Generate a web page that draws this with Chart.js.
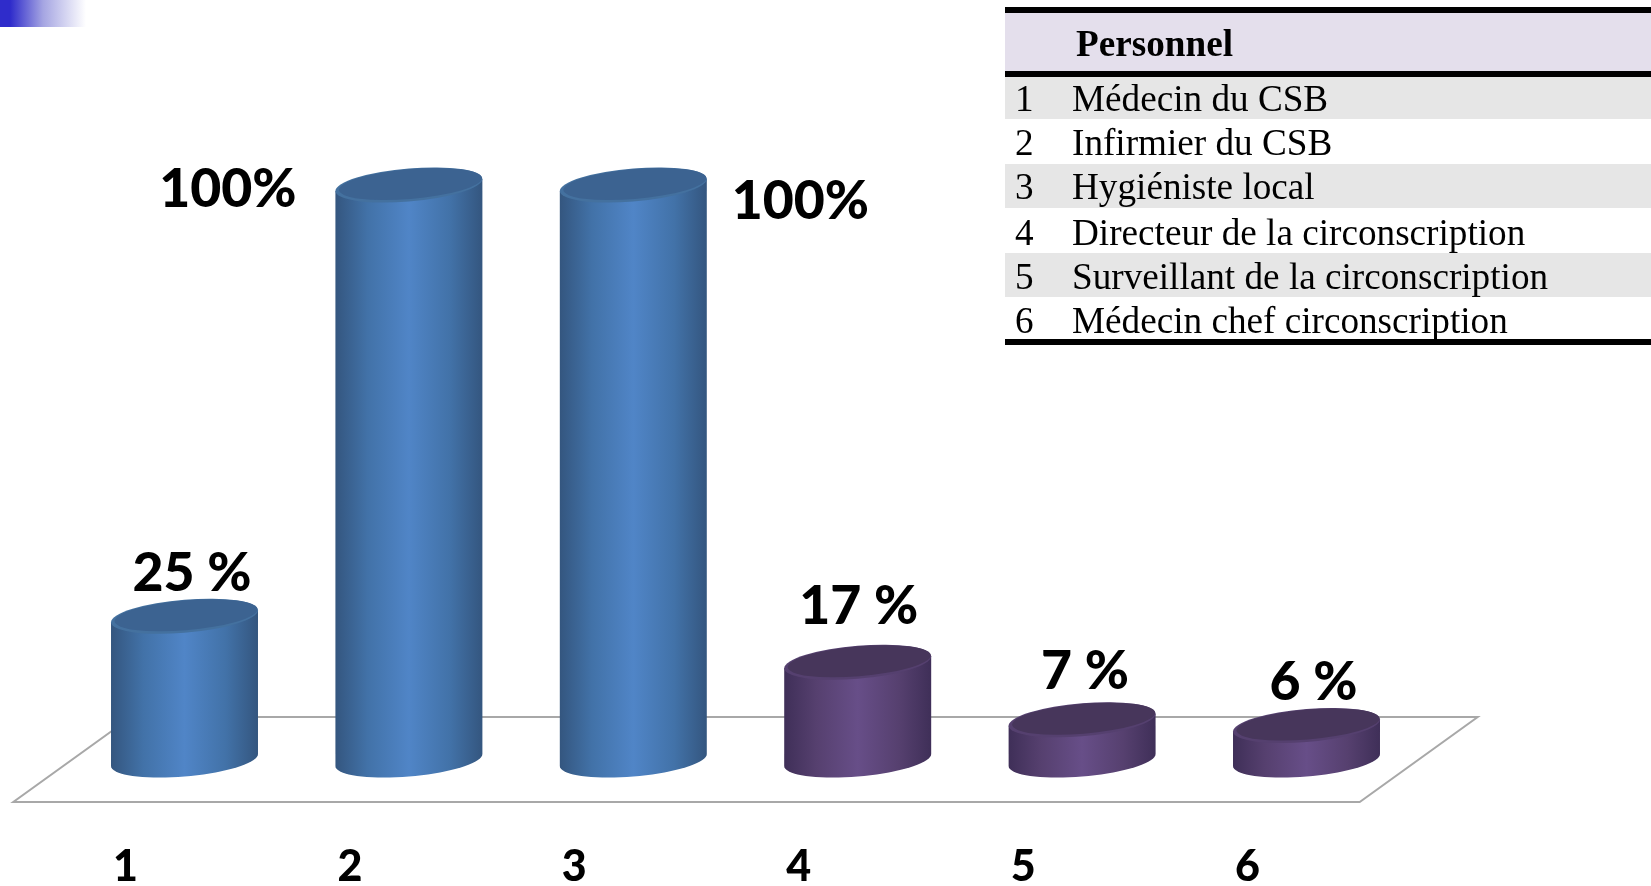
<!DOCTYPE html>
<html lang="fr">
<head>
<meta charset="utf-8">
<title>Personnel</title>
<script src="https://cdn.jsdelivr.net/npm/chart.js@4"></script>
<style>
    html, body { margin: 0; padding: 0; background: #fff; overflow: hidden; }
    #wrap { position: relative; width: 1651px; height: 886px; }
    #corner {
        position: absolute; left: 0; top: 0; width: 86px; height: 27px;
        background: linear-gradient(to right, #2f2ccb 0%, #2f2ccb 12%, #a5a5e2 50%, #ffffff 100%);
    }
    #legendTable {
        position: absolute; left: 1005px; top: 7px; width: 646px;
        border-collapse: collapse; table-layout: fixed;
        font-family: "Liberation Serif", serif; color: #000;
        border-top: 6px solid #000; border-bottom: 6px solid #000;
    }
    #legendTable col.numCol { width: 67px; }
    #legendTable th {
        height: 64.3px; padding: 2px 0 0 71px; box-sizing: border-box; text-align: left;
        font-size: 37.2px; font-weight: bold; background: #e4dfec;
        border-bottom: 6px solid #000;
    }
    #legendTable td {
        height: 44.5px; padding: 0; box-sizing: border-box;
        font-size: 37.2px; line-height: 36px; white-space: nowrap;
    }
    #legendTable tbody tr:first-child td { height: 45px; padding-top: 1px; }
    #legendTable tbody tr:nth-child(n+2) td { padding-top: 2px; }
    #legendTable tbody tr:nth-child(n+4) td { padding-top: 4px; }
    #legendTable tbody tr:last-child td { height: 42px; padding-top: 6px; }
    #legendTable td.num { padding-left: 10px; }
    #legendTable tr.shade td { background: #e6e6e6; }
    canvas { position: absolute; left: 0; top: 0; }
</style>
</head>
<body>
<div id="wrap">
    <canvas id="chart" width="1651" height="886"></canvas>
    <div id="corner"></div>
    <table id="legendTable"><colgroup><col class="numCol"><col></colgroup><thead></thead><tbody></tbody></table>
</div>
<script>
const categories = ["1", "2", "3", "4", "5", "6"];
const percentages = [25, 100, 100, 17, 7, 6];
const valueLabels = ["25 %", "100%", "100%", "17 %", "7 %", "6 %"];
const personnel = [
    "Médecin du CSB",
    "Infirmier du CSB",
    "Hygiéniste local",
    "Directeur de la circonscription",
    "Surveillant de la circonscription",
    "Médecin chef circonscription"
];
const legendTitle = "Personnel";

const blue = { edge: "#34567f", side: "#4272a8", mid: "#5085c7", rim: "#44719f", top: "#3c6391" };
const purple = { edge: "#3f2f58", side: "#56406f", mid: "#674e88", rim: "#55406f", top: "#47365b" };
const barColors = [blue, blue, blue, purple, purple, purple];

// legend table
function buildTable() {
    const table = document.getElementById("legendTable");
    table.tHead.innerHTML = `<tr><th colspan="2">${legendTitle}</th></tr>`;
    table.tBodies[0].innerHTML = personnel.map((name, i) =>
        `<tr class="${i % 2 === 0 ? "shade" : ""}"><td class="num">${categories[i]}</td><td>${name}</td></tr>`
    ).join("");
}

// draws the ground plane behind the bars
const floorPlugin = {
    id: "floor",
    beforeDatasetsDraw(chart) {
        const { ctx, chartArea } = chart;
        const { left, right, bottom } = chartArea;
        ctx.save();
        ctx.strokeStyle = "#a8a8a8";
        ctx.lineWidth = 2;
        ctx.beginPath();
        ctx.moveTo(left - 59, bottom + 42);
        ctx.lineTo(right - 59, bottom + 42);
        ctx.lineTo(right + 59, bottom - 43);
        ctx.lineTo(left + 59, bottom - 43);
        ctx.closePath();
        ctx.stroke();
        ctx.restore();
    }
};

function tiltedEllipse(ctx, x, y, rx, ry) {
    const tilt = -6 / 73.5;
    ctx.save();
    ctx.transform(1, tilt, 0, 1, x, y);
    ctx.beginPath();
    ctx.ellipse(0, 0, rx, ry, 0, 0, Math.PI * 2);
    ctx.restore();
}

// each bar element is painted as a cylinder, at the place the scales gave it
const cylinderPlugin = {
    id: "cylinder",
    beforeDatasetDraw(chart, args) {
        const { ctx } = chart;
        args.meta.data.forEach((bar, i) => {
            const c = barColors[i];
            const rx = bar.width / 2;
            const ry = 16.5;
            const tilt = -6 / 73.5;

            const grad = ctx.createLinearGradient(bar.x - rx, 0, bar.x + rx, 0);
            grad.addColorStop(0, c.edge);
            grad.addColorStop(0.22, c.side);
            grad.addColorStop(0.5, c.mid);
            grad.addColorStop(0.78, c.side);
            grad.addColorStop(1, c.edge);

            ctx.save();
            ctx.fillStyle = grad;
            ctx.beginPath();
            ctx.moveTo(bar.x - rx, bar.y - tilt * rx);
            for (let a = 180; a >= 0; a -= 5) {
                const t = a * Math.PI / 180;
                const dx = rx * Math.cos(t);
                ctx.lineTo(bar.x + dx, bar.base + tilt * dx + ry * Math.sin(t));
            }
            ctx.lineTo(bar.x + rx, bar.y + tilt * rx);
            ctx.closePath();
            ctx.fill();

            tiltedEllipse(ctx, bar.x, bar.y, rx, ry);
            ctx.fillStyle = c.rim;
            ctx.fill();
            tiltedEllipse(ctx, bar.x + 1.5, bar.y - 1, rx - 2, ry - 1.5);
            ctx.fillStyle = c.top;
            ctx.fill();
            ctx.restore();
        });
        return false;
    }
};

// value labels, they sit where the original author dragged them
const valueLabelPlugin = {
    id: "valueLabels",
    afterDatasetsDraw(chart) {
        const { ctx } = chart;
        const nudgeX = [7.5, -181, 167, 1, 3, 7];
        const nudgeY = [-25, 22, 34, -38, -31, -26];
        const bars = chart.getDatasetMeta(0).data;
        ctx.save();
        ctx.font = "900 53.5px Lato, sans-serif";
        ctx.fillStyle = "#000";
        ctx.textAlign = "center";
        ctx.textBaseline = "alphabetic";
        bars.forEach((bar, i) => {
            ctx.fillText(valueLabels[i], bar.x + nudgeX[i], bar.y + nudgeY[i]);
        });
        ctx.restore();
    }
};

buildTable();

new Chart(document.getElementById("chart"), {
    type: "bar",
    data: {
        labels: categories,
        datasets: [{
            label: legendTitle,
            data: percentages,
            backgroundColor: barColors.map(c => c.mid),
            categoryPercentage: 1,
            barPercentage: 0.655
        }]
    },
    options: {
        responsive: false,
        animation: false,
        layout: { padding: { left: 72.3, right: 232.3, top: 185, bottom: 0 } },
        plugins: { legend: { display: false }, tooltip: { enabled: false } },
        scales: {
            x: {
                grid: { display: false, drawTicks: false },
                border: { display: false },
                afterFit(scale) { scale.height = 126; },
                ticks: {
                    color: "#000",
                    font: { family: "Lato, sans-serif", size: 43, weight: "900" },
                    padding: 81,
                    labelOffset: -59,
                    maxRotation: 0
                }
            },
            y: { display: false, min: 0, max: 100 }
        }
    },
    plugins: [floorPlugin, cylinderPlugin, valueLabelPlugin]
});
</script>
</body>
</html>
